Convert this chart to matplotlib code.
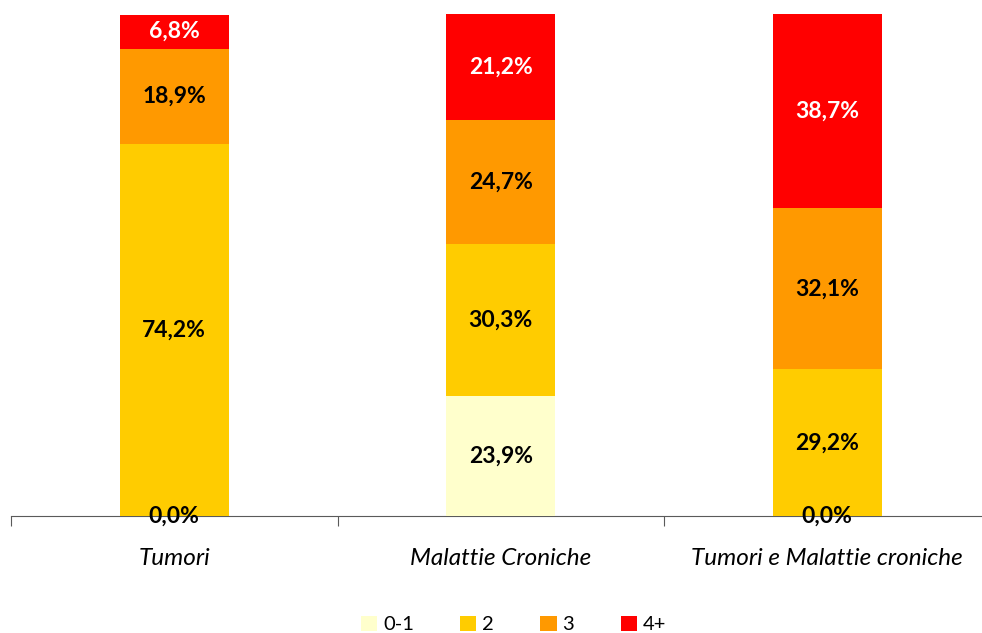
import numpy as np
import matplotlib.pyplot as plt

categorie = ["Tumori", "Malattie Croniche", "Tumori e Malattie croniche"]
serie = ["0-1", "2", "3", "4+"]
val_01 = [0.0, 23.9, 0.0]
val_2 = [74.2, 30.3, 29.2]
val_3 = [18.9, 24.7, 32.1]
val_4 = [6.8, 21.2, 38.7]

colori = ["#FFFFCC", "#FFCC00", "#FF9900", "#FF0000"]
colori_testo = ["black", "black", "black", "white"]

plt.rcParams["font.family"] = ["Lato", "DejaVu Sans"]

fig = plt.figure(figsize=(9.82, 6.33), dpi=100)
ax = fig.add_axes([11 / 982, 117 / 633, 979.5 / 982, 502 / 633])

x = np.arange(len(categorie))
base = np.zeros(len(categorie))
for nome, valori, col, ct in zip(serie, [val_01, val_2, val_3, val_4], colori, colori_testo):
    valori = np.array(valori)
    bars = ax.bar(x, valori, 0.335, bottom=base, color=col, label=nome, zorder=2)
    for b, v, b0 in zip(bars, valori, base):
        ax.text(b.get_x() + b.get_width() / 2, b0 + v / 2,
                f"{v:.1f}%".replace(".", ","), ha="center", va="center",
                fontsize=16.5, fontweight="bold", color=ct, zorder=5)
    base = base + valori

ax.set_xlim(-0.5, 2.5)
ax.set_ylim(0, 100)
for s in ["top", "right", "left"]:
    ax.spines[s].set_visible(False)
ax.spines["bottom"].set_color("#5a5a5a")
ax.spines["bottom"].set_zorder(1)
ax.set_yticks([])

ax.set_xticks([-0.5, 0.5, 1.5, 2.5])
ax.set_xticklabels([])
ax.tick_params(axis="x", length=7, color="#5a5a5a", direction="out")
for xi, c in zip(x, categorie):
    ax.text(xi, -8.4, c, ha="center", va="center", fontsize=17.5,
            fontstyle="italic", transform=ax.transData)

ax.legend(loc="center", bbox_to_anchor=(0.513, -0.216), ncol=4, frameon=False,
          fontsize=14.5, handlelength=0.8, handleheight=0.8, handletextpad=0.3,
          columnspacing=2.3)

fig.savefig("out.png", dpi=100)
